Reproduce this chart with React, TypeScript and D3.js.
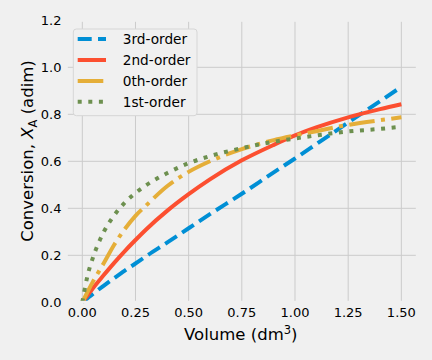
import React from "react";
import * as d3 from "d3";

const volume = [0, 0.025, 0.05, 0.1, 0.15, 0.2, 0.25, 0.3, 0.4, 0.5, 0.6, 0.75, 0.9, 1.0, 1.1, 1.25, 1.4, 1.5];
const thirdOrder = [0, 0.018, 0.036, 0.07, 0.103, 0.135, 0.165, 0.196, 0.255, 0.315, 0.375, 0.462, 0.553, 0.612, 0.673, 0.765, 0.856, 0.917];
const secondOrder = [0, 0.03, 0.06, 0.115, 0.168, 0.218, 0.265, 0.31, 0.39, 0.46, 0.523, 0.604, 0.67, 0.71, 0.744, 0.787, 0.822, 0.843];
const zerothOrder = [0, 0.045, 0.088, 0.165, 0.245, 0.312, 0.368, 0.412, 0.495, 0.555, 0.6, 0.652, 0.69, 0.71, 0.728, 0.755, 0.775, 0.787];
const firstOrder = [0, 0.115, 0.19, 0.298, 0.37, 0.424, 0.465, 0.498, 0.55, 0.592, 0.622, 0.656, 0.683, 0.697, 0.71, 0.727, 0.738, 0.747];

const seriesNames = ["3rd-order", "2nd-order", "0th-order", "1st-order"];
const xTicks = [0, 0.25, 0.5, 0.75, 1.0, 1.25, 1.5];
const yTicks = [0, 0.2, 0.4, 0.6, 0.8, 1.0, 1.2];

const W = 432, H = 360;
const FONT = "DejaVu Sans, sans-serif";

export default function App() {
  const x = d3.scaleLinear().domain([-0.075, 1.575]).range([66.35, 417.3]);
  const y = d3.scaleLinear().domain([0, 1.2]).range([302.3, 20.3]);

  const series = [
    { name: seriesNames[0], values: thirdOrder, color: "#008fd5", dash: "14,6.3" },
    { name: seriesNames[1], values: secondOrder, color: "#fc4f30", dash: null },
    { name: seriesNames[2], values: zerothOrder, color: "#e5ae38", dash: "25.6,6.4,4,6.4" },
    { name: seriesNames[3], values: firstOrder, color: "#6d904f", dash: "4,6.6" },
  ];

  const line = d3
    .line<number>()
    .x((_, i) => x(volume[i]))
    .y((d) => y(d))
    .curve(d3.curveMonotoneX);

  const [x0, x1] = x.range();
  const [yb, yt] = y.range();

  const legendRows = [39, 60, 81, 101.7];

  return (
    <svg
      width={W}
      height={H}
      style={{ position: "absolute", left: 0, top: 0, display: "block" }}
      fontFamily={FONT}
    >
      <rect x={0} y={0} width={W} height={H} fill="#f0f0f0" />
      {xTicks.map((t) => (
        <line key={"gx" + t} x1={x(t)} x2={x(t)} y1={yt} y2={yb} stroke="#cbcbcb" strokeWidth={1} />
      ))}
      {yTicks.map((t) => (
        <line key={"gy" + t} x1={x0} x2={x1} y1={y(t)} y2={y(t)} stroke="#cbcbcb" strokeWidth={1} />
      ))}
      {series.map((s) => (
        <path
          key={s.name}
          d={line(s.values) || ""}
          fill="none"
          stroke={s.color}
          strokeWidth={4}
          strokeDasharray={s.dash || undefined}
          strokeLinecap="butt"
          strokeLinejoin="round"
        />
      ))}
      <rect x={x0} y={yt} width={x1 - x0} height={yb - yt} fill="none" stroke="#f0f0f0" strokeWidth={3} />
      {xTicks.map((t) => (
        <text key={"tx" + t} x={x(t)} y={316.5} fontSize={13} textAnchor="middle" fill="#000">
          {d3.format(".2f")(t)}
        </text>
      ))}
      {yTicks.map((t) => (
        <text key={"ty" + t} x={61.5} y={y(t)} dy="0.36em" fontSize={13} textAnchor="end" fill="#000">
          {d3.format(".1f")(t)}
        </text>
      ))}
      <text x={240.8} y={340} fontSize={16.5} textAnchor="middle" fill="#000">
        Volume (dm
        <tspan fontSize={11.5} dy={-6.5}>3</tspan>
        <tspan dy={6.5}>)</tspan>
      </text>
      <text transform="translate(33.3,151) rotate(-90)" fontSize={16.5} textAnchor="middle" fill="#000">
        Conversion,{" "}
        <tspan fontStyle="italic">X</tspan>
        <tspan fontSize={11.5} dy={3.5}>A</tspan>
        <tspan dy={-3.5}> (adim)</tspan>
      </text>
      <rect x={73.3} y={29} width={123.7} height={86.7} rx={3} fill="#f0f0f0" stroke="#d6d6d6" strokeWidth={1} />
      {series.map((s, i) => (
        <g key={"lg" + s.name}>
          <line
            x1={77.7}
            x2={106}
            y1={legendRows[i]}
            y2={legendRows[i]}
            stroke={s.color}
            strokeWidth={4}
            strokeDasharray={s.dash || undefined}
            strokeLinecap="butt"
          />
          <text x={122.7} y={legendRows[i]} dy="0.36em" fontSize={13.7} fill="#000">
            {s.name}
          </text>
        </g>
      ))}
    </svg>
  );
}
